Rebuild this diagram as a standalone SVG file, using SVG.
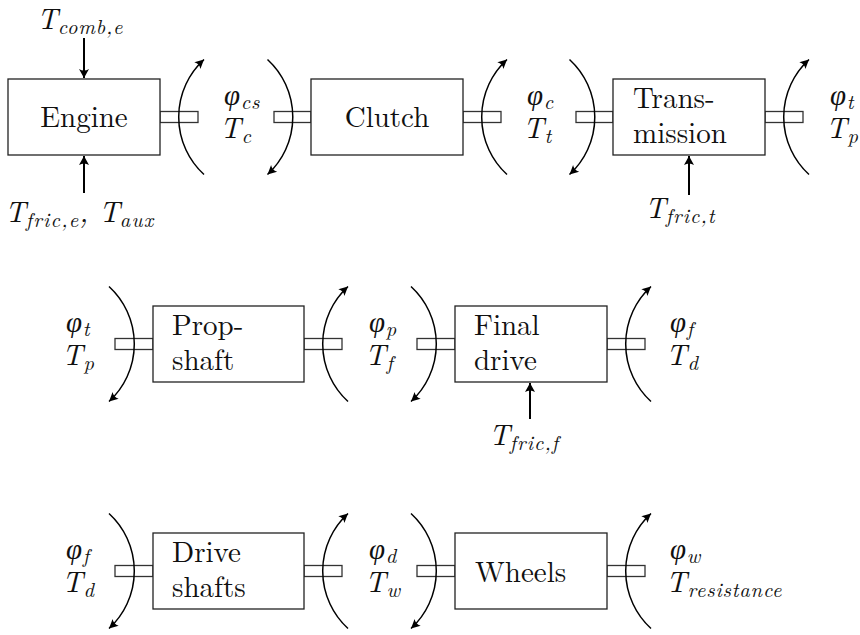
<svg xmlns="http://www.w3.org/2000/svg" width="860" height="635" viewBox="0 0 860 635">
<style>
.box{fill:#fff;stroke:#222;stroke-width:1.3}
.stub{fill:#fff;stroke:#333;stroke-width:1.3}
.arc{fill:none;stroke:#000;stroke-width:1.5;marker-end:url(#ah)}
.force{fill:none;stroke:#000;stroke-width:2;marker-end:url(#ah2)}
</style>
<defs>
<marker id="ah" viewBox="-10 -5 12 10" refX="0" refY="0" markerWidth="12" markerHeight="10" markerUnits="userSpaceOnUse" orient="auto">
<path d="M0,0 L-9,-4.5 Q-6,0 -9,4.5 Z" fill="#000"/>
</marker>
<marker id="ah2" viewBox="-10 -5 12 10" refX="0" refY="0" markerWidth="12" markerHeight="10" markerUnits="userSpaceOnUse" orient="auto">
<path d="M0,0 L-9,-5 Q-6,0 -9,5 Z" fill="#000"/>
</marker>
</defs>
<rect width="860" height="635" fill="#fff"/>

<g id="shafts">
<rect class="stub" x="160" y="111.5" width="38" height="11"/>
<rect class="stub" x="274" y="111.5" width="37" height="11"/>
<rect class="stub" x="463" y="111.5" width="38" height="11"/>
<rect class="stub" x="576" y="111.5" width="37" height="11"/>
<rect class="stub" x="765" y="111.5" width="38" height="11"/>
<rect class="stub" x="115" y="338.5" width="38" height="11"/>
<rect class="stub" x="304" y="338.5" width="38" height="11"/>
<rect class="stub" x="417" y="338.5" width="38" height="11"/>
<rect class="stub" x="607" y="338.5" width="38" height="11"/>
<rect class="stub" x="115" y="565.5" width="38" height="11"/>
<rect class="stub" x="304" y="565.5" width="38" height="11"/>
<rect class="stub" x="417" y="565.5" width="38" height="11"/>
<rect class="stub" x="607" y="565.5" width="38" height="11"/>
</g>

<g font-family="Latin Modern Roman, Liberation Serif, serif" font-size="29" fill="#111">
<g id="engine"><rect class="box" x="8" y="79" width="152" height="76"/><text x="84" y="127" text-anchor="middle">Engine</text></g>
<g id="clutch"><rect class="box" x="311" y="79" width="152" height="76"/><text x="387" y="127" text-anchor="middle">Clutch</text></g>
<g id="transmission"><rect class="box" x="613" y="79" width="152" height="76"/><text x="633" y="108">Trans-</text><text x="633" y="143">mission</text></g>
<g id="propshaft"><rect class="box" x="153" y="306" width="151" height="76"/><text x="172" y="335">Prop-</text><text x="172" y="370">shaft</text></g>
<g id="finaldrive"><rect class="box" x="455" y="306" width="152" height="76"/><text x="474" y="335">Final</text><text x="474" y="370">drive</text></g>
<g id="driveshafts"><rect class="box" x="153" y="533" width="151" height="76"/><text x="172" y="562">Drive</text><text x="172" y="597">shafts</text></g>
<g id="wheels"><rect class="box" x="455" y="533" width="152" height="76"/><text x="475" y="582">Wheels</text></g>
</g>

<g id="connectors">
<path class="arc" d="M204,174.5 A78,78 0 0 1 204,59.5"/>
<path class="arc" d="M267.5,59.5 A78,78 0 0 1 267.5,174.5"/>
<path class="arc" d="M507,174.5 A78,78 0 0 1 507,59.5"/>
<path class="arc" d="M569.5,59.5 A78,78 0 0 1 569.5,174.5"/>
<path class="arc" d="M809,174.5 A78,78 0 0 1 809,59.5"/>
<path class="arc" d="M109,286.5 A78,78 0 0 1 109,401.5"/>
<path class="arc" d="M348,401.5 A78,78 0 0 1 348,286.5"/>
<path class="arc" d="M411,286.5 A78,78 0 0 1 411,401.5"/>
<path class="arc" d="M651,401.5 A78,78 0 0 1 651,286.5"/>
<path class="arc" d="M109,513.5 A78,78 0 0 1 109,628.5"/>
<path class="arc" d="M348,628.5 A78,78 0 0 1 348,513.5"/>
<path class="arc" d="M411,513.5 A78,78 0 0 1 411,628.5"/>
<path class="arc" d="M651,628.5 A78,78 0 0 1 651,513.5"/>
<line class="force" x1="84" y1="38" x2="84" y2="78"/>
<line class="force" x1="84" y1="193" x2="84" y2="156"/>
<line class="force" x1="689" y1="195" x2="689" y2="156"/>
<line class="force" x1="530" y1="419" x2="530" y2="383"/>
</g>

<g id="labels" font-family="Latin Modern Roman, Liberation Serif, serif" font-style="italic" font-size="29" fill="#111">
<text x="37" y="29">T<tspan font-size="20.5" dy="5" letter-spacing="0.8">comb,e</tspan></text>
<text x="5" y="222">T<tspan font-size="20.5" dy="5" letter-spacing="1.2">fric,e</tspan><tspan dy="-5">,</tspan><tspan x="99">T</tspan><tspan font-size="20.5" dy="5" letter-spacing="1.2">aux</tspan></text>
<text x="645" y="218">T<tspan font-size="20.5" dy="5" letter-spacing="1">fric,t</tspan></text>
<text x="489" y="445">T<tspan font-size="20.5" dy="5" letter-spacing="1">fric,f</tspan></text>

<g font-size="20.5" letter-spacing="0.8">
<text x="224" y="105"><tspan font-family="Liberation Serif" font-size="29">φ</tspan><tspan dy="4">cs</tspan></text>
<text x="527" y="105"><tspan font-family="Liberation Serif" font-size="29">φ</tspan><tspan dy="4">c</tspan></text>
<text x="830" y="105"><tspan font-family="Liberation Serif" font-size="29">φ</tspan><tspan dy="4">t</tspan></text>
<text x="66" y="332"><tspan font-family="Liberation Serif" font-size="29">φ</tspan><tspan dy="4">t</tspan></text>
<text x="369" y="332"><tspan font-family="Liberation Serif" font-size="29">φ</tspan><tspan dy="4">p</tspan></text>
<text x="670" y="332"><tspan font-family="Liberation Serif" font-size="29">φ</tspan><tspan dy="4">f</tspan></text>
<text x="66" y="559"><tspan font-family="Liberation Serif" font-size="29">φ</tspan><tspan dy="4">f</tspan></text>
<text x="369" y="559"><tspan font-family="Liberation Serif" font-size="29">φ</tspan><tspan dy="4">d</tspan></text>
<text x="670" y="559"><tspan font-family="Liberation Serif" font-size="29">φ</tspan><tspan dy="4">w</tspan></text>

<text x="220" y="138"><tspan font-size="29">T</tspan><tspan dy="5">c</tspan></text>
<text x="523" y="138"><tspan font-size="29">T</tspan><tspan dy="5">t</tspan></text>
<text x="826" y="138"><tspan font-size="29">T</tspan><tspan dy="5">p</tspan></text>
<text x="62" y="365"><tspan font-size="29">T</tspan><tspan dy="5">p</tspan></text>
<text x="365" y="365"><tspan font-size="29">T</tspan><tspan dy="5">f</tspan></text>
<text x="666" y="365"><tspan font-size="29">T</tspan><tspan dy="5">d</tspan></text>
<text x="62" y="592"><tspan font-size="29">T</tspan><tspan dy="5">d</tspan></text>
<text x="365" y="592"><tspan font-size="29">T</tspan><tspan dy="5">w</tspan></text>
<text x="666" y="592"><tspan font-size="29">T</tspan><tspan dy="5">resistance</tspan></text>
</g>
</g>
</svg>
